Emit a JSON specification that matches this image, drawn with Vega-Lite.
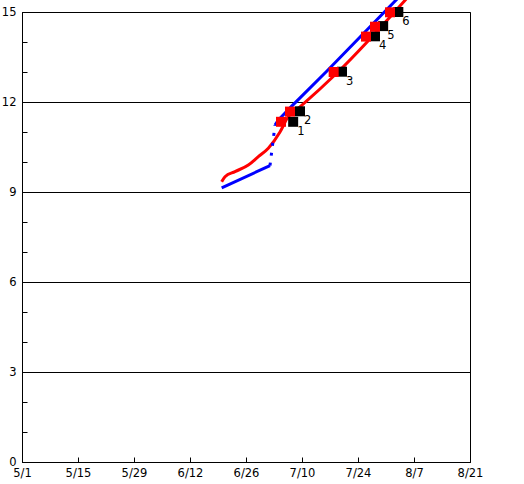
{
  "$schema": "https://vega.github.io/schema/vega-lite/v6.json",
  "width": 448,
  "height": 450,
  "autosize": {"type": "none"},
  "padding": {"left": 22, "top": 12, "right": 54, "bottom": 22},
  "background": "white",
  "datasets": {
    "lines": [
      {"series": "red", "date": "2021-06-19T22:00:00Z", "value": 9.34},
      {"series": "red", "date": "2021-06-20T18:00:00Z", "value": 9.51},
      {"series": "red", "date": "2021-06-23T06:00:00Z", "value": 9.68},
      {"series": "red", "date": "2021-06-26T14:00:00Z", "value": 9.9},
      {"series": "red", "date": "2021-06-29T02:00:00Z", "value": 10.18},
      {"series": "red", "date": "2021-07-01T14:00:00Z", "value": 10.46},
      {"series": "red", "date": "2021-07-04T12:00:00Z", "value": 11.0},
      {"series": "red", "date": "2021-07-06T12:00:00Z", "value": 11.5},
      {"series": "red", "date": "2021-07-09T12:00:00Z", "value": 11.84},
      {"series": "red", "date": "2021-07-19T00:00:00Z", "value": 13.0},
      {"series": "red", "date": "2021-08-05T12:00:00Z", "value": 15.5},
      {"series": "blue1", "date": "2021-06-19T22:00:00Z", "value": 9.14},
      {"series": "blue1", "date": "2021-07-02T00:00:00Z", "value": 9.88},
      {"series": "blueDot", "date": "2021-07-02T00:00:00Z", "value": 9.88},
      {"series": "blueDot", "date": "2021-07-03T06:00:00Z", "value": 11.23},
      {"series": "blue2", "date": "2021-07-03T06:00:00Z", "value": 11.23},
      {"series": "blue2", "date": "2021-07-04T02:00:00Z", "value": 11.4},
      {"series": "blue2", "date": "2021-07-07T12:00:00Z", "value": 11.87},
      {"series": "blue2", "date": "2021-07-16T00:00:00Z", "value": 13.0},
      {"series": "blue2", "date": "2021-08-03T06:00:00Z", "value": 15.5}
    ],
    "markers": [
      {"kind": "red", "id": "1", "date": "2021-07-04T18:00:00Z", "value": 11.34},
      {"kind": "red", "id": "2", "date": "2021-07-07T00:00:00Z", "value": 11.68},
      {"kind": "red", "id": "3", "date": "2021-07-17T22:00:00Z", "value": 13.0},
      {"kind": "red", "id": "4", "date": "2021-07-26T00:00:00Z", "value": 14.18},
      {"kind": "red", "id": "5", "date": "2021-07-28T06:00:00Z", "value": 14.51},
      {"kind": "red", "id": "6", "date": "2021-08-01T00:00:00Z", "value": 14.99},
      {"kind": "black", "id": "1", "date": "2021-07-07T19:00:00Z", "value": 11.34},
      {"kind": "black", "id": "2", "date": "2021-07-09T12:00:00Z", "value": 11.69},
      {"kind": "black", "id": "3", "date": "2021-07-20T00:00:00Z", "value": 13.01},
      {"kind": "black", "id": "4", "date": "2021-07-28T06:00:00Z", "value": 14.19},
      {"kind": "black", "id": "5", "date": "2021-07-30T07:00:00Z", "value": 14.53},
      {"kind": "black", "id": "6", "date": "2021-08-03T02:00:00Z", "value": 15.0}
    ]
  },
  "encoding": {
    "x": {
      "field": "date",
      "type": "temporal",
      "scale": {
        "type": "utc",
        "domain": [
          {"year": 2021, "month": 5, "date": 1, "utc": true},
          {"year": 2021, "month": 8, "date": 21, "utc": true}
        ]
      },
      "axis": {
        "title": null,
        "values": [
          {"year": 2021, "month": 5, "date": 1, "utc": true},
          {"year": 2021, "month": 5, "date": 15, "utc": true},
          {"year": 2021, "month": 5, "date": 29, "utc": true},
          {"year": 2021, "month": 6, "date": 12, "utc": true},
          {"year": 2021, "month": 6, "date": 26, "utc": true},
          {"year": 2021, "month": 7, "date": 10, "utc": true},
          {"year": 2021, "month": 7, "date": 24, "utc": true},
          {"year": 2021, "month": 8, "date": 7, "utc": true},
          {"year": 2021, "month": 8, "date": 21, "utc": true}
        ],
        "format": "%-m/%-d",
        "grid": false,
        "tickSize": -5,
        "labelPadding": 10.5,
        "labelFlush": false,
        "labelOverlap": false,
        "labelBound": false
      }
    },
    "y": {
      "field": "value",
      "type": "quantitative",
      "scale": {"domain": [0, 15], "nice": false, "zero": true},
      "axis": {
        "title": null,
        "values": [0, 1, 2, 3, 4, 5, 6, 7, 8, 9, 10, 11, 12, 13, 14, 15],
        "labelExpr": "datum.value % 3 === 0 ? datum.label : ''",
        "grid": true,
        "gridOpacity": {"condition": {"test": "datum.value % 3 === 0", "value": 1}, "value": 0},
        "tickSize": -5,
        "labelPadding": 11,
        "labelFlush": false,
        "labelOverlap": false,
        "labelBound": false
      }
    }
  },
  "layer": [
    {
      "data": {"name": "lines"},
      "transform": [{"filter": "datum.series === 'red'"}],
      "mark": {"type": "line", "color": "#ff0000", "strokeWidth": 3, "strokeJoin": "round", "interpolate": "monotone"}
    },
    {
      "data": {"name": "lines"},
      "transform": [{"filter": "datum.series === 'blue1' || datum.series === 'blue2'"}],
      "mark": {"type": "line", "color": "#0000ff", "strokeWidth": 3, "strokeJoin": "round"},
      "encoding": {"detail": {"field": "series"}}
    },
    {
      "data": {"name": "lines"},
      "transform": [{"filter": "datum.series === 'blueDot'"}],
      "mark": {"type": "line", "color": "#0000ff", "strokeWidth": 3, "strokeDash": [3, 7], "strokeCap": "butt"}
    },
    {
      "data": {"name": "markers"},
      "transform": [{"filter": "datum.kind === 'black'"}],
      "mark": {"type": "square", "color": "#000000", "filled": true, "opacity": 1, "size": 100}
    },
    {
      "data": {"name": "markers"},
      "transform": [{"filter": "datum.kind === 'red'"}],
      "mark": {"type": "square", "color": "#ff0000", "filled": true, "opacity": 1, "size": 100}
    },
    {
      "data": {"name": "markers"},
      "transform": [{"filter": "datum.kind === 'black'"}],
      "mark": {"type": "text", "align": "left", "baseline": "top", "dx": 4, "dy": 4, "font": "DejaVu Sans", "fontSize": 11.5, "color": "#000000"},
      "encoding": {"text": {"field": "id"}}
    }
  ],
  "config": {
    "view": {"stroke": "#000000", "strokeWidth": 1},
    "axis": {
      "domainColor": "#000000",
      "tickColor": "#000000",
      "gridColor": "#000000",
      "labelColor": "#000000",
      "labelFont": "DejaVu Sans",
      "labelFontSize": 11.5
    }
  }
}
